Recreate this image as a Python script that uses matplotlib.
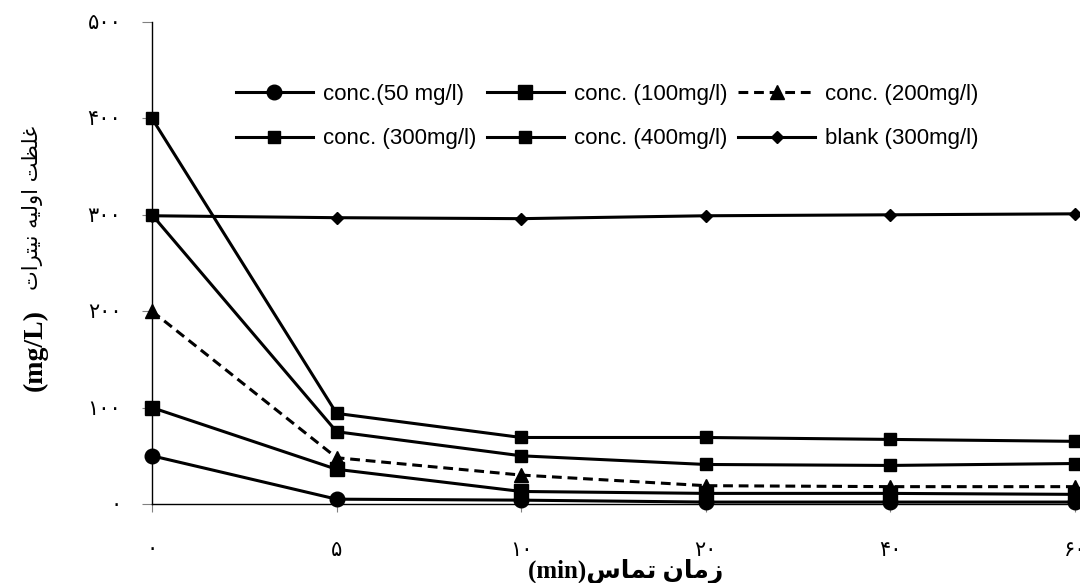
import matplotlib
matplotlib.use('Agg')
import matplotlib.pyplot as plt

# contact time (min), shown as Persian digits on a category axis
time_labels = ['\u06f0', '\u06f5', '\u06f1\u06f0', '\u06f2\u06f0', '\u06f4\u06f0', '\u06f6\u06f0']
y_ticks = [0, 100, 200, 300, 400, 500]
y_tick_labels = ['\u06f0', '\u06f1\u06f0\u06f0', '\u06f2\u06f0\u06f0', '\u06f3\u06f0\u06f0',
                 '\u06f4\u06f0\u06f0', '\u06f5\u06f0\u06f0']

c50 = [50, 5, 4, 2, 2, 2]
c100 = [100, 36, 13, 11, 11, 10]
c200 = [200, 48, 30, 19, 18, 18]
c300 = [300, 75, 50, 41, 40, 42]
c400 = [400, 94, 69, 69, 67, 65]
blank = [299, 297, 296, 299, 300, 301]

# Persian labels, already shaped (presentation forms) and in visual order
ylab_fa = ('\ufe95\ufe8d\ufeae\ufe98\ufef4\ufee7' + ' ' +
           '\ufeea\ufef4\ufedf\ufeed\ufe8d' + ' ' +
           '\ufe96\ufec8\ufee0\ufecf')
xlab = '(min)' + '\ufeb1\ufe8e\ufee4\ufe97' + ' ' + '\ufee5\ufe8e\ufee3\ufeaf'

W, H = 1080, 583
fig = plt.figure(figsize=(W / 100, H / 100), dpi=100)
ax = fig.add_axes([152 / W, 79 / H, (1075 - 152) / W, (504 - 22) / H])

x = list(range(len(time_labels)))
lw = 2.2
h50, = ax.plot(x, c50, '-o', color='black', lw=lw, ms=10.5, clip_on=False, label='conc.(50 mg/l)')
h100, = ax.plot(x, c100, '-s', color='black', lw=lw, ms=10.5, clip_on=False, label='conc. (100mg/l)')
h200, = ax.plot(x, c200, '--^', color='black', lw=lw, ms=10, dashes=(3.2, 1.9), clip_on=False,
                label='conc. (200mg/l)')
h300, = ax.plot(x, c300, '-s', color='black', lw=lw, ms=8.5, clip_on=False, label='conc. (300mg/l)')
h400, = ax.plot(x, c400, '-s', color='black', lw=lw, ms=8.5, clip_on=False, label='conc. (400mg/l)')
hbl, = ax.plot(x, blank, '-D', color='black', lw=lw, ms=6.5, clip_on=False, label='blank (300mg/l)')

ax.set_xlim(0, 5)
ax.set_ylim(0, 500)
for s in ['top', 'right']:
    ax.spines[s].set_visible(False)
for s in ['left', 'bottom']:
    ax.spines[s].set_linewidth(1.0)

tick_font = ['Liberation Serif', 'DejaVu Sans']
ax.set_xticks(x)
ax.set_xticklabels(time_labels, family=tick_font, fontsize=15)
ax.set_yticks(y_ticks)
ax.set_yticklabels(y_tick_labels, family=tick_font, fontsize=15)
ax.tick_params(axis='x', direction='out', length=6, width=0.8, color='#808080', pad=21)
ax.tick_params(axis='y', direction='out', length=7, width=0.8, color='#808080', pad=15)

handles = [h50, h300, h100, h400, h200, hbl]
leg = fig.legend(handles=handles, labels=[h.get_label() for h in handles], ncol=3,
                 loc='upper left', bbox_to_anchor=(236 / W, 1 - 84 / H),
                 frameon=False, borderpad=0, borderaxespad=0,
                 prop={'family': 'Liberation Sans', 'size': 16},
                 handlelength=3.45, handletextpad=0.45, columnspacing=0.5,
                 labelspacing=1.05, numpoints=1)

fig.text(35 / W, 1 - 350 / H, '(mg/L)', rotation=90, ha='center', va='center',
         family=['Liberation Serif', 'DejaVu Sans'], fontweight='bold', fontsize=20)
fig.text(33 / W, 1 - 208 / H, ylab_fa, rotation=90, ha='center', va='center',
         family=['DejaVu Sans'], fontsize=15)
fig.text(528 / W, 1 - 571 / H, xlab, ha='left', va='center',
         family=['Liberation Serif', 'DejaVu Sans'], fontweight='bold', fontsize=18)

fig.savefig('out.png', dpi=100)
